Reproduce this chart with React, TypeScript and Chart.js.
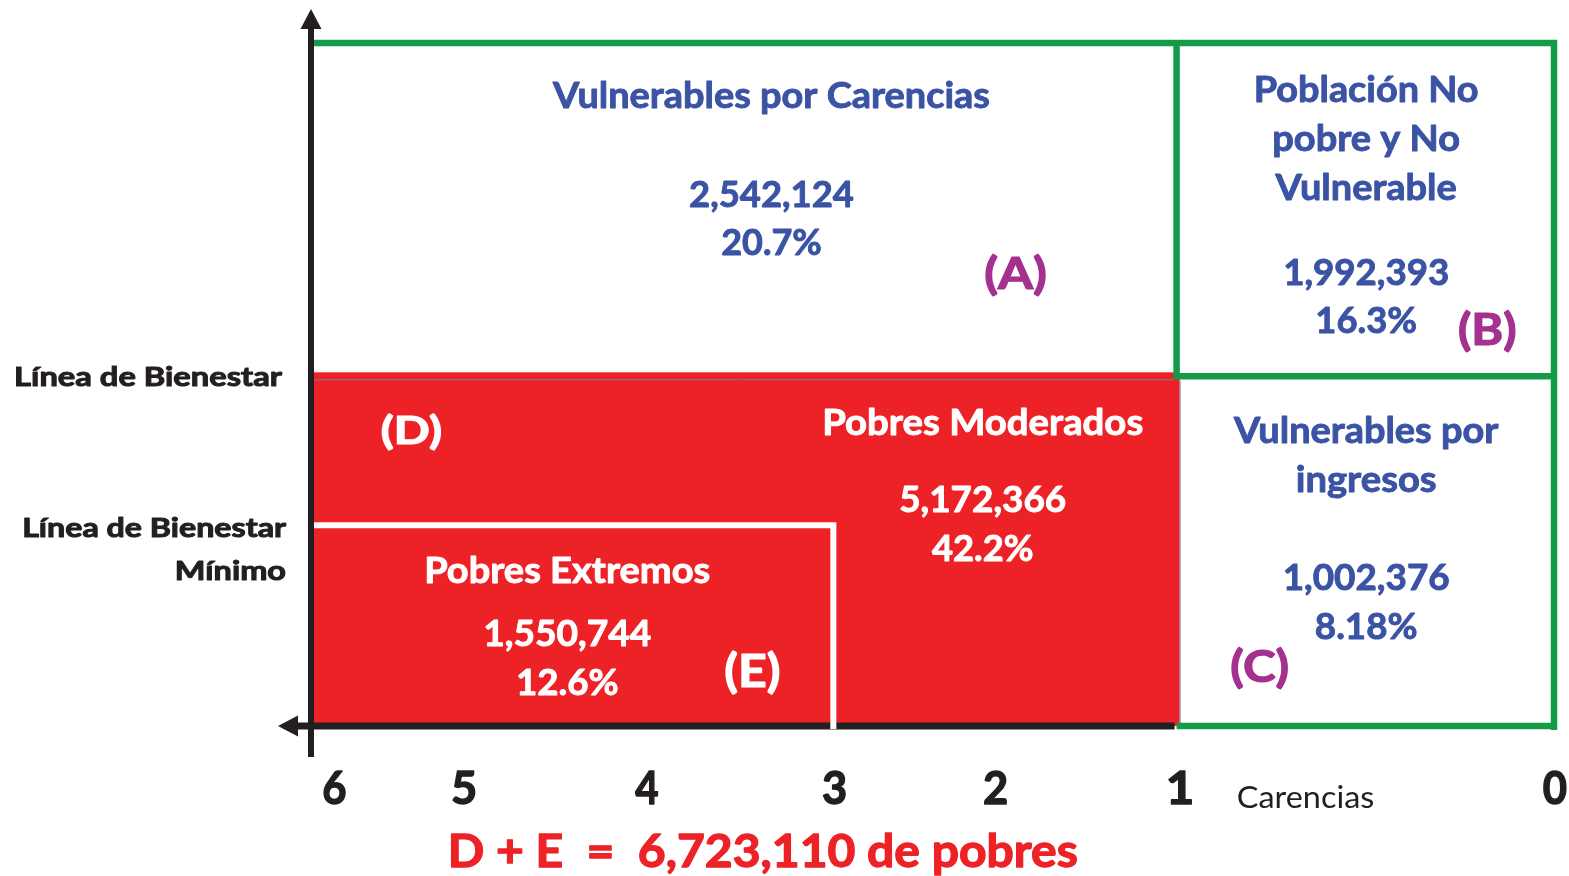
import React, { useEffect, useRef } from 'react';
import { Chart, registerables } from 'chart.js';

Chart.register(...registerables);

// ---------------- data ----------------
const categories = [
  'Vulnerables por Carencias',
  'Población No pobre y No Vulnerable',
  'Vulnerables por ingresos',
  'Pobres Moderados',
  'Pobres Extremos',
];
const categoryLines = [
  ['Vulnerables por Carencias'],
  ['Población No', 'pobre y No', 'Vulnerable'],
  ['Vulnerables por', 'ingresos'],
  ['Pobres Moderados'],
  ['Pobres Extremos'],
];
const groupLetters = ['(A)', '(B)', '(C)', '(D)', '(E)'];
const population = [2542124, 1992393, 1002376, 5172366, 1550744];
const percentLabels = ['20.7%', '16.3%', '8.18%', '42.2%', '12.6%'];
const xTickLabels = ['6', '5', '4', '3', '2', '1', '0'];
const xAxisTitle = 'Carencias';
const incomeLineLabels = [['Línea de Bienestar'], ['Línea de Bienestar', 'Mínimo']];
const carenciasThresholds = [1, 3]; // vulnerable-by-deprivation boundary, extreme-poverty boundary
const incomeThresholds = [5.12, 2.94]; // Línea de Bienestar, Línea de Bienestar Mínimo
const maxCarencias = 6;

// ---------------- styles ----------------
const BLUE = '#3a53a4';
const PURPLE = '#a4318f';
const RED = '#ed2227';
const GREEN = '#149b48';
const BLACK = '#231f20';
const WHITE = '#ffffff';
const FONT = 'Lato, "Open Sans", "Noto Sans", sans-serif';

function fmt(n: number) {
  return n.toLocaleString('en-US');
}

function drawText(
  ctx: CanvasRenderingContext2D,
  s: string,
  x: number,
  y: number,
  size: number,
  color: string,
  opts: { w?: number; align?: 'center' | 'left' | 'right'; weight?: string; stroke?: number } = {}
) {
  const align = opts.align || 'center';
  const weight = opts.weight || '700';
  const stroke = opts.stroke === undefined ? (weight === '700' ? 0.9 : 0) : opts.stroke;
  ctx.save();
  ctx.font = `${weight} ${size}px ${FONT}`;
  ctx.fillStyle = color;
  ctx.strokeStyle = color;
  ctx.lineJoin = 'round';
  ctx.textBaseline = 'alphabetic';
  ctx.textAlign = align;
  const m = ctx.measureText(s);
  const ink = (m.actualBoundingBoxLeft || 0) + (m.actualBoundingBoxRight || m.width);
  const k = opts.w ? opts.w / (ink + stroke) : 0.9;
  ctx.translate(x, y);
  ctx.scale(k, 1);
  ctx.fillText(s, 0, 0);
  if (stroke > 0) {
    ctx.lineWidth = stroke;
    ctx.strokeText(s, 0, 0);
  }
  ctx.restore();
}

const diagramPlugin = {
  id: 'povertyDiagram',
  afterDraw(chart: any) {
    const ctx: CanvasRenderingContext2D = chart.ctx;
    const xs = chart.scales.x;
    const ys = chart.scales.y;
    const X = (v: number) => xs.getPixelForValue(v);
    const Y = (v: number) => ys.getPixelForValue(v);
    const xMin = xs.min;
    const yMax = ys.max;
    const [c1, c3] = carenciasThresholds;
    const [lb, lbm] = incomeThresholds;

    ctx.save();
    // red poverty block (D + E)
    ctx.fillStyle = RED;
    ctx.fillRect(X(maxCarencias), Y(lb) - 4, X(c1) + 3 - X(maxCarencias), Y(0) - Y(lb) + 4);
    // thin outline of red block
    ctx.strokeStyle = '#6f7ba8';
    ctx.lineWidth = 1;
    ctx.beginPath();
    ctx.moveTo(X(maxCarencias) + 3, Y(lb) + 3.5);
    ctx.lineTo(X(c1) - 3, Y(lb) + 3.5);
    ctx.moveTo(X(c1) + 3.5, Y(lb) + 4);
    ctx.lineTo(X(c1) + 3.5, Y(0) - 3);
    ctx.stroke();

    // green boxes
    ctx.strokeStyle = GREEN;
    ctx.lineWidth = 6.5;
    ctx.lineCap = 'butt';
    ctx.beginPath();
    ctx.moveTo(X(maxCarencias), Y(yMax));
    ctx.lineTo(X(xMin) + 3, Y(yMax));
    ctx.moveTo(X(xMin), Y(yMax) - 3);
    ctx.lineTo(X(xMin), Y(0) + 4);
    ctx.moveTo(X(c1), Y(yMax) - 3);
    ctx.lineTo(X(c1), Y(lb) + 3);
    ctx.moveTo(X(c1) - 3, Y(lb));
    ctx.lineTo(X(xMin), Y(lb));
    ctx.moveTo(X(c1), Y(0));
    ctx.lineTo(X(xMin), Y(0));
    ctx.stroke();

    // black axes
    ctx.strokeStyle = BLACK;
    ctx.fillStyle = BLACK;
    ctx.lineWidth = 6;
    ctx.beginPath();
    ctx.moveTo(X(maxCarencias), Y(yMax) - 16);
    ctx.lineTo(X(maxCarencias), Y(0) + 31);
    ctx.stroke();
    ctx.lineWidth = 7;
    ctx.beginPath();
    ctx.moveTo(X(maxCarencias) - 15, Y(0));
    ctx.lineTo(X(c1) - 2, Y(0));
    ctx.stroke();
    // arrow heads
    ctx.beginPath();
    ctx.moveTo(X(maxCarencias), Y(yMax) - 34);
    ctx.lineTo(X(maxCarencias) + 10.5, Y(yMax) - 14);
    ctx.lineTo(X(maxCarencias) - 10.5, Y(yMax) - 14);
    ctx.closePath();
    ctx.fill();
    ctx.beginPath();
    ctx.moveTo(X(maxCarencias) - 33, Y(0));
    ctx.lineTo(X(maxCarencias) - 13, Y(0) - 10.5);
    ctx.lineTo(X(maxCarencias) - 13, Y(0) + 10.5);
    ctx.closePath();
    ctx.fill();

    // white extreme poverty border
    ctx.strokeStyle = WHITE;
    ctx.lineWidth = 6;
    ctx.lineJoin = 'miter';
    ctx.beginPath();
    ctx.moveTo(X(maxCarencias) + 3, Y(lbm));
    ctx.lineTo(X(c3) + 3, Y(lbm));
    ctx.lineTo(X(c3) + 3, Y(0) + 3);
    ctx.stroke();
    ctx.restore();

    // ---------- quadrant texts ----------
    const layout = [
      { cx: 3.34, lines: [9.05], lw: [438], num: 7.6, nw: 164, pct: 6.9, pw: 100, lx: 1.93, ly: 6.4, ls: 43, lwid: 62, col: BLUE, lcol: PURPLE },
      { cx: -0.095, lines: [9.14, 8.42, 7.7], lw: [223, 186, 183], num: 6.46, nw: 164, pct: 5.75, pw: 100, lx: -0.795, ly: 5.58, ls: 43, lwid: 58, col: BLUE, lcol: PURPLE },
      { cx: -0.095, lines: [4.14, 3.43], lw: [267, 140], num: 1.99, nw: 165, pct: 1.27, pw: 102, lx: 0.52, ly: 0.64, ls: 43, lwid: 58, col: BLUE, lcol: PURPLE },
      { cx: 2.12, lines: [4.26], lw: [319], num: 3.13, nw: 166, pct: 2.42, pw: 102, lx: 5.42, ly: 4.13, ls: 38, lwid: 61, col: WHITE, lcol: WHITE },
      { cx: 4.52, lines: [2.09], lw: [284], num: 1.17, nw: 166, pct: 0.45, pw: 101, lx: 3.45, ly: 0.57, ls: 45, lwid: 55, col: WHITE, lcol: WHITE },
    ];
    const BODY = 36;
    categories.forEach((_, i) => {
      const L = layout[i];
      categoryLines[i].forEach((line, j) => {
        drawText(ctx, line, X(L.cx), Y(L.lines[j]), BODY, L.col, { w: L.lw[j] });
      });
      drawText(ctx, fmt(population[i]), X(L.cx), Y(L.num), BODY, L.col, { w: L.nw });
      drawText(ctx, percentLabels[i], X(L.cx), Y(L.pct), BODY, L.col, { w: L.pw });
      drawText(ctx, groupLetters[i], X(L.lx), Y(L.ly), L.ls, L.lcol, { w: L.lwid, stroke: 1.2 });
    });

    // income line labels (left)
    const left = chart.chartArea.left;
    drawText(ctx, incomeLineLabels[0][0], left - 29, Y(lb) + 10, 26, BLACK, { align: 'right', w: 267, stroke: 1 });
    drawText(ctx, incomeLineLabels[1][0], left - 25, Y(lbm) + 12, 26, BLACK, { align: 'right', w: 263, stroke: 1 });
    drawText(ctx, incomeLineLabels[1][1], left - 25, Y(lbm) + 55, 26, BLACK, { align: 'right', w: 110, stroke: 1 });

    // x tick labels (number of carencias)
    const tickPos = [5.865, 5.115, 4.06, 2.975, 2.045, 0.98, -1.185];
    xTickLabels.forEach((t, i) => {
      drawText(ctx, t, X(tickPos[i]), Y(0) + 78, 46, BLACK, { w: 24, stroke: 1.4 });
    });
    drawText(ctx, xAxisTitle, X(0.652), Y(0) + 82, 31, BLACK, { align: 'left', weight: '400', w: 136 });

    // total poor
    const totalPoor = population[3] + population[4];
    drawText(ctx, `D + E  =  ${fmt(totalPoor)} de pobres`, X(3.39), Y(0) + 141, 46, RED, { w: 627, stroke: 1.3 });
  },
};

export default function App() {
  const ref = useRef<HTMLCanvasElement | null>(null);
  useEffect(() => {
    if (!ref.current) return;
    const chart = new Chart(ref.current, {
      type: 'scatter',
      data: { datasets: [] },
      options: {
        animation: false,
        responsive: false,
        devicePixelRatio: 1,
        layout: { padding: { left: 311, right: 15, top: 43, bottom: 150 } },
        plugins: { legend: { display: false }, tooltip: { enabled: false } },
        scales: {
          x: { type: 'linear', reverse: true, min: -1.18, max: maxCarencias, display: false },
          y: { type: 'linear', min: 0, max: 10, display: false },
        },
      },
      plugins: [diagramPlugin],
    } as any);
    let alive = true;
    if ((document as any).fonts && (document as any).fonts.load) {
      Promise.all([
        (document as any).fonts.load(`700 36px Lato`),
        (document as any).fonts.load(`400 30px Lato`),
      ]).then(() => {
        if (alive) chart.update();
      }).catch(() => {});
    }
    return () => {
      alive = false;
      chart.destroy();
    };
  }, []);
  return (
    <div style={{ position: 'fixed', left: 0, top: 0, width: 1569, height: 876, background: '#fff' }}>
      <canvas ref={ref} width={1569} height={876} style={{ display: 'block' }} />
    </div>
  );
}
